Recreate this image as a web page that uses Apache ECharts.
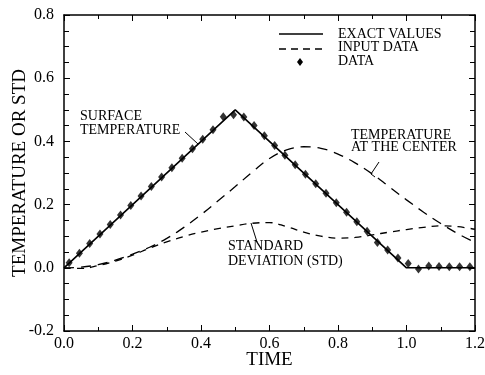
<!DOCTYPE html>
<html><head><meta charset="utf-8">
<script src="https://cdn.jsdelivr.net/npm/echarts@6/dist/echarts.min.js"></script>
<style>html,body{margin:0;padding:0;background:#fff}#c{width:485px;height:375px}</style>
</head><body><div id="c"></div>
<script>
// Exact surface temperature (solid)
const exactT = [0.0, 0.5, 1.0, 1.2];
const exactV = [0.0, 0.5, 0.0, 0.0];
// Data diamonds (noisy surface temperature)
const dataT = [0.015,0.045,0.075,0.105,0.135,0.165,0.195,0.225,0.255,0.285,0.315,0.345,0.375,0.405,0.435,0.465,0.495,0.525,0.555,0.585,0.615,0.645,0.675,0.705,0.735,0.765,0.795,0.825,0.855,0.885,0.915,0.945,0.975,1.005,1.035,1.065,1.095,1.125,1.155,1.185];
const dataV = [0.016,0.046,0.077,0.107,0.137,0.167,0.197,0.227,0.257,0.287,0.317,0.347,0.377,0.407,0.437,0.478,0.484,0.477,0.450,0.418,0.387,0.356,0.326,0.296,0.266,0.236,0.206,0.176,0.146,0.116,0.080,0.056,0.031,0.014,-0.004,0.006,0.004,0.003,0.003,0.003];
// Temperature at the center (dashed)
const centerT = [0,0.05,0.1,0.15,0.2,0.25,0.3,0.35,0.4,0.45,0.5,0.55,0.6,0.65,0.7,0.75,0.8,0.85,0.9,0.95,1.0,1.05,1.1,1.15,1.2];
const centerV = [0,0.002,0.01,0.024,0.043,0.065,0.093,0.128,0.168,0.212,0.257,0.303,0.346,0.373,0.383,0.378,0.36,0.332,0.297,0.256,0.215,0.176,0.14,0.108,0.08];
// Standard deviation (dashed)
const stdT = [0,0.05,0.1,0.15,0.2,0.25,0.3,0.35,0.4,0.45,0.5,0.55,0.6,0.65,0.7,0.75,0.8,0.85,0.9,0.95,1.0,1.05,1.1,1.15,1.2];
const stdV = [0,-0.002,0.007,0.021,0.04,0.062,0.082,0.099,0.113,0.124,0.133,0.141,0.143,0.13,0.113,0.1,0.094,0.096,0.104,0.113,0.121,0.128,0.133,0.13,0.122];
// Axis ticks
const xTicks = {min:0, max:1.2, interval:0.2};
const yTicks = {min:-0.2, max:0.8, interval:0.2};

const zip = (a,b)=>a.map((v,i)=>[v,b[i]]);
const F = 'Liberation Serif, Times New Roman, serif';
const chart = echarts.init(document.getElementById('c'));
const axLine = {show:true, onZero:false, lineStyle:{color:'#000', width:1.5}};
chart.setOption({
  animation:false,
  grid:{left:64, right:10, top:15, bottom:44, containLabel:false, outerBoundsMode:'none'},
  xAxis:[
    {type:'value', min:xTicks.min, max:xTicks.max, interval:xTicks.interval, position:'bottom',
     name:'TIME', nameLocation:'middle', nameGap:20, nameMoveOverlap:false,
     nameTextStyle:{fontFamily:F, fontSize:19, color:'#000'},
     axisLine:axLine, axisTick:{inside:true, length:6, lineStyle:{color:'#000'}},
     minorTick:{show:true, splitNumber:2, length:4, lineStyle:{color:'#000'}},
     axisLabel:{fontFamily:F, fontSize:16, color:'#000', margin:5, formatter:v=>v.toFixed(1)},
     splitLine:{show:false}},
    {type:'value', min:xTicks.min, max:xTicks.max, interval:xTicks.interval, position:'top',
     axisLine:axLine, axisTick:{inside:true, length:6, lineStyle:{color:'#000'}},
     minorTick:{show:true, splitNumber:2, length:4, lineStyle:{color:'#000'}},
     axisLabel:{show:false}, splitLine:{show:false}}
  ],
  yAxis:[
    {type:'value', min:yTicks.min, max:yTicks.max, interval:yTicks.interval, position:'left',
     name:'TEMPERATURE OR STD', nameLocation:'middle', nameGap:34, nameMoveOverlap:false,
     nameTextStyle:{fontFamily:F, fontSize:19, color:'#000'},
     axisLine:axLine, axisTick:{inside:true, length:6, lineStyle:{color:'#000'}},
     minorTick:{show:true, splitNumber:4, length:5, lineStyle:{color:'#000'}},
     axisLabel:{fontFamily:F, fontSize:16, color:'#000', margin:10, formatter:v=>v.toFixed(1)},
     splitLine:{show:false}},
    {type:'value', min:yTicks.min, max:yTicks.max, interval:yTicks.interval, position:'right',
     axisLine:axLine, axisTick:{inside:true, length:6, lineStyle:{color:'#000'}},
     minorTick:{show:true, splitNumber:4, length:5, lineStyle:{color:'#000'}},
     axisLabel:{show:false}, splitLine:{show:false}}
  ],
  series:[
    {type:'line', data:zip(exactT,exactV), symbol:'none', lineStyle:{color:'#000', width:1.6}, z:3},
    {type:'line', data:zip(centerT,centerV), symbol:'none', smooth:0.4,
     lineStyle:{color:'#000', width:1.3, type:[10,7]}},
    {type:'line', data:zip(stdT,stdV), symbol:'none', smooth:0.4,
     lineStyle:{color:'#000', width:1.3, type:[7,6]}},
    {type:'scatter', data:zip(dataT,dataV), symbol:'diamond', symbolSize:[7,9],
     itemStyle:{color:'#000'}, z:4}
  ],
  graphic:[
    {type:'line', shape:{x1:279,y1:34,x2:323,y2:34}, style:{stroke:'#000', lineWidth:1.6}},
    {type:'line', shape:{x1:279,y1:49,x2:323,y2:49}, style:{stroke:'#000', lineWidth:1.3, lineDash:[7,5]}},
    {type:'polygon', shape:{points:[[300,58],[303,62],[300,66],[297,62]]}, style:{fill:'#000'}},
    {type:'text', left:338, top:27, style:{text:'EXACT VALUES', font:'14px '+F, fill:'#000'}},
    {type:'text', left:338, top:40, style:{text:'INPUT DATA', font:'14px '+F, fill:'#000'}},
    {type:'text', left:338, top:54, style:{text:'DATA', font:'14px '+F, fill:'#000'}},
    {type:'text', left:80, top:109, style:{text:'SURFACE\nTEMPERATURE', font:'14px '+F, fill:'#000', lineHeight:14}},
    {type:'line', shape:{x1:185,y1:132,x2:198,y2:144}, style:{stroke:'#000', lineWidth:1}},
    {type:'text', left:351, top:128, style:{text:'TEMPERATURE\nAT THE CENTER', font:'14px '+F, fill:'#000', lineHeight:12.5}},
    {type:'line', shape:{x1:379,y1:162,x2:371,y2:174}, style:{stroke:'#000', lineWidth:1}},
    {type:'line', shape:{x1:371,y1:174,x2:375,y2:177}, style:{stroke:'#000', lineWidth:1}},
    {type:'text', left:228, top:239, style:{text:'STANDARD\nDEVIATION (STD)', font:'14px '+F, fill:'#000', lineHeight:15}},
    {type:'line', shape:{x1:251,y1:223,x2:257,y2:242}, style:{stroke:'#000', lineWidth:1}}
  ]
});
</script></body></html>
